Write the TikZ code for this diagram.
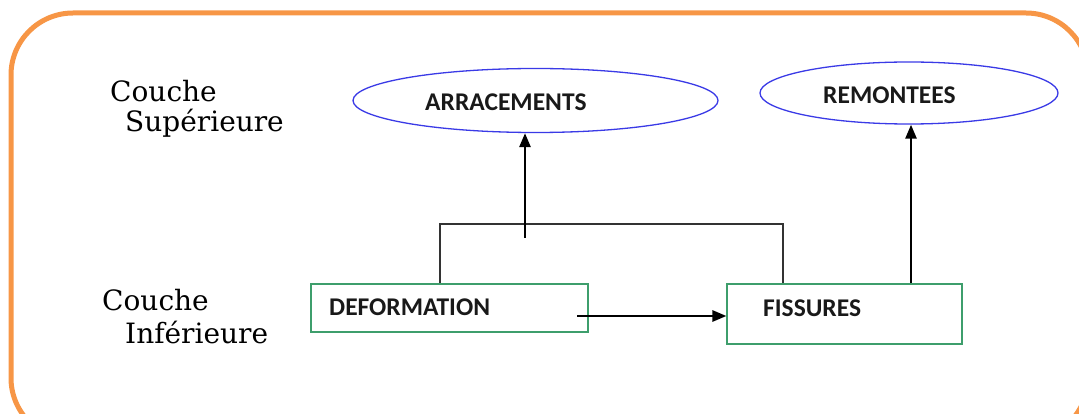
\documentclass[tikz,border=0pt]{standalone}
\usepackage{fontspec}
\setmainfont{DejaVu Serif}
\newfontfamily\calib{Carlito}
\usetikzlibrary{shapes.geometric,arrows.meta}
\definecolor{frameor}{HTML}{F79646}
\definecolor{ellblue}{HTML}{3A3AE6}
\definecolor{boxgreen}{HTML}{3E9E6C}
\tikzset{
  ell/.style={ellipse, draw=ellblue, line width=1.3pt, inner sep=0pt},
  gbox/.style={rectangle, draw=boxgreen, line width=1.1pt, inner sep=0pt},
  lbl/.style={font=\calib\bfseries\fontsize{25.5}{28}\selectfont, inner sep=0pt, anchor=west, text=black!90},
  side/.style={font=\fontsize{28}{32}\selectfont, inner sep=0pt, anchor=base west},
  conn/.style={draw=black!80, line width=1.4pt},
  arr/.style={draw=black, line width=2.6pt, -{Triangle[length=14pt,width=11pt]}}
}
\begin{document}
\begin{tikzpicture}[x=1pt,y=-1pt]
\useasboundingbox (0,0) rectangle (1079,414);
\draw[frameor, line width=5pt, rounded corners=62pt] (11,13) rectangle (1088,440);
% left labels
\node[side] (c1) at (110,102) {Couche};
\node[side] (s1) at (125,132) {Supérieure};
\node[side] (c2) at (102,310) {Couche};
\node[side] (i2) at (125,343) {Inférieure};
% ellipses
\node[ell, minimum width=365pt, minimum height=64pt] (arr) at (535.5,100.5) {};
\node[lbl] (arrt) at (425,102) {ARRACEMENTS};
\node[ell, minimum width=298pt, minimum height=62pt] (rem) at (909,93) {};
\node[lbl] (remt) at (823,95) {REMONTEES};
% boxes
\node[gbox, minimum width=277pt, minimum height=48pt] (def) at (449.5,308) {};
\node[lbl] (deft) at (329,307) {DEFORMATION};
\node[gbox, minimum width=235pt, minimum height=60pt] (fis) at (844.5,314) {};
\node[lbl] (fist) at (763,308) {FISSURES};
% connectors
\coordinate (b1) at (440,224);
\coordinate (b2) at (783,224);
\draw[conn] (b1 |- def.north) -- (b1) -- (b2) -- (b2 |- fis.north);
\coordinate (a0) at (525,238);
\draw[arr] (a0) -- (a0 |- arr.south);
\coordinate (h0) at (577,316);
\draw[arr] (h0) -- (h0 -| fis.west);
\coordinate (v0) at (911,0);
\draw[arr] (v0 |- fis.north) -- (v0 |- rem.south);
\end{tikzpicture}
\end{document}
